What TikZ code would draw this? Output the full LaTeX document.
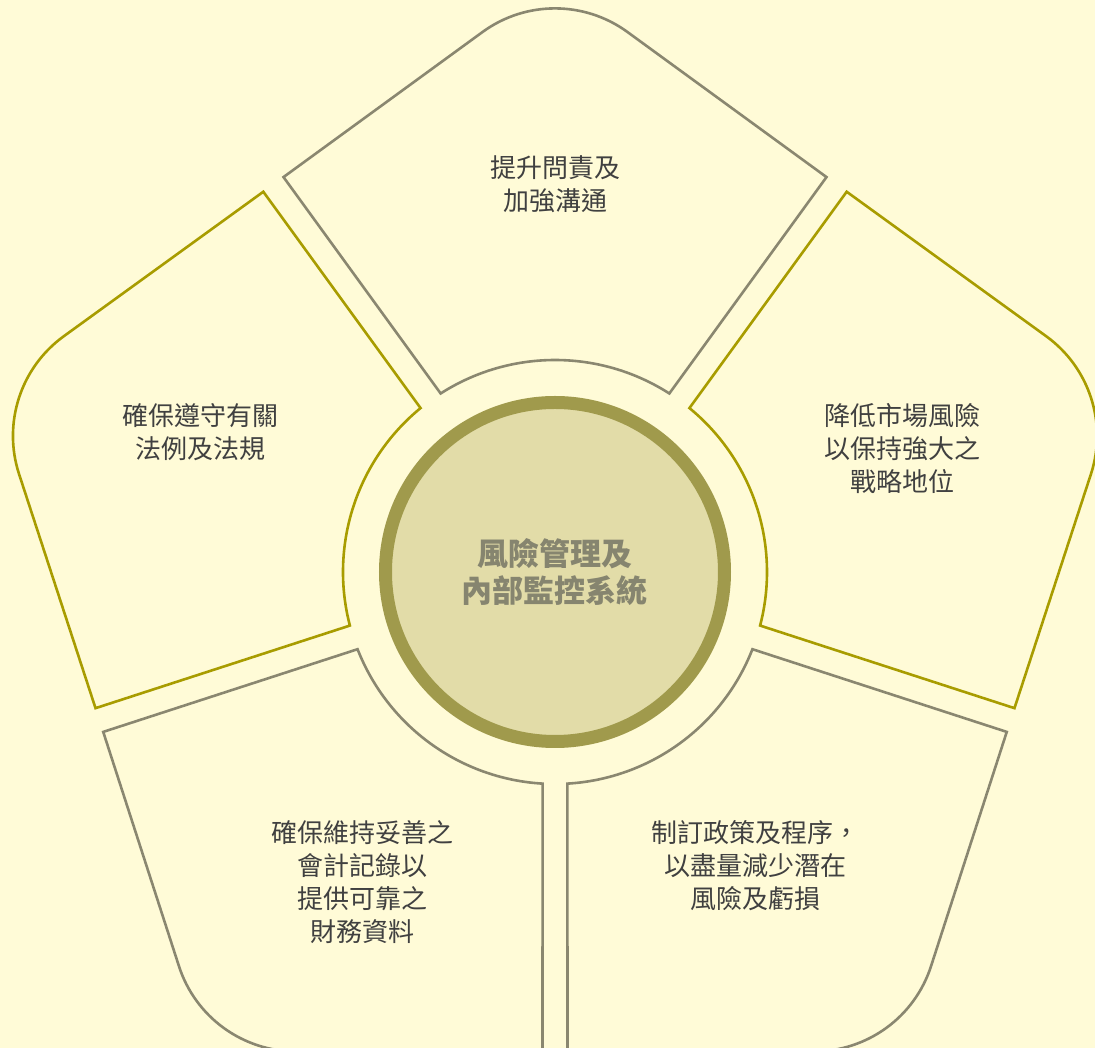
\documentclass[tikz,border=0pt]{standalone}
\usepackage{fontspec}
\usepackage{xcolor}
\usepackage{tikz}

\newfontfamily\cjk{Noto Sans CJK TC}
\definecolor{bgyellow}{HTML}{FFFBD7}
\definecolor{petalgray}{HTML}{8A8770}
\definecolor{petalolive}{HTML}{A89C00}
\definecolor{corefill}{HTML}{E2DCA8}
\definecolor{coreborder}{HTML}{A09A4C}
\definecolor{coretext}{HTML}{86856F}
\definecolor{petaltext}{HTML}{404040}

\begin{document}
\begin{tikzpicture}[x=1pt,y=1pt]
	\fill[bgyellow] (-555,-476) rectangle (540,572);
	\useasboundingbox (-555,-476) rectangle (540,572);
	% five petals, the top one turned by 72 degrees each time
	\draw[petalgray, line width=2.6pt, fill=bgyellow, rotate=0] (57.36:212) -- (271.5,394.9) -- (72.3,540.1) arc[start angle=54, end angle=126, radius=123pt] -- (-271.5,394.9) -- (122.64:212) arc[start angle=122.64, end angle=57.36, radius=212pt] -- cycle;
	\draw[petalolive, line width=2.6pt, fill=bgyellow, rotate=72] (57.36:212) -- (271.5,394.9) -- (72.3,540.1) arc[start angle=54, end angle=126, radius=123pt] -- (-271.5,394.9) -- (122.64:212) arc[start angle=122.64, end angle=57.36, radius=212pt] -- cycle;
	\draw[petalgray, line width=2.6pt, fill=bgyellow, rotate=144] (57.36:212) -- (271.5,394.9) -- (72.3,540.1) arc[start angle=54, end angle=126, radius=123pt] -- (-271.5,394.9) -- (122.64:212) arc[start angle=122.64, end angle=57.36, radius=212pt] -- cycle;
	\draw[petalgray, line width=2.6pt, fill=bgyellow, rotate=216] (57.36:212) -- (271.5,394.9) -- (72.3,540.1) arc[start angle=54, end angle=126, radius=123pt] -- (-271.5,394.9) -- (122.64:212) arc[start angle=122.64, end angle=57.36, radius=212pt] -- cycle;
	\draw[petalolive, line width=2.6pt, fill=bgyellow, rotate=288] (57.36:212) -- (271.5,394.9) -- (72.3,540.1) arc[start angle=54, end angle=126, radius=123pt] -- (-271.5,394.9) -- (122.64:212) arc[start angle=122.64, end angle=57.36, radius=212pt] -- cycle;
	% centre
	\node[shape=circle,draw=coreborder,fill=corefill,line width=13pt,minimum size=339pt,inner sep=0pt,align=center,text=coretext,font=\cjk\bfseries\fontsize{31}{37}\selectfont] (core) at (0,0) {風險管理及\\內部監控系統};
	% petal texts
	\node[align=center,text=petaltext,font=\cjk\fontsize{26}{33}\selectfont] (accountability) at (1,387.5) {提升問責及\\加強溝通};
	\node[align=center,text=petaltext,font=\cjk\fontsize{26}{33}\selectfont] (compliance) at (-354,139.5) {確保遵守有關\\法例及法規};
	\node[align=center,text=petaltext,font=\cjk\fontsize{26}{33}\selectfont] (marketrisk) at (347,123) {降低市場風險\\以保持強大之\\戰略地位};
	\node[align=center,text=petaltext,font=\cjk\fontsize{26}{33}\selectfont] (records) at (-192.5,-310.5) {確保維持妥善之\\會計記錄以\\提供可靠之\\財務資料};
	\node[align=center,text=petaltext,font=\cjk\fontsize{26}{33}\selectfont] (policies) at (200,-294) {制訂政策及程序，\\以盡量減少潛在\\風險及虧損};
\end{tikzpicture}
\end{document}
